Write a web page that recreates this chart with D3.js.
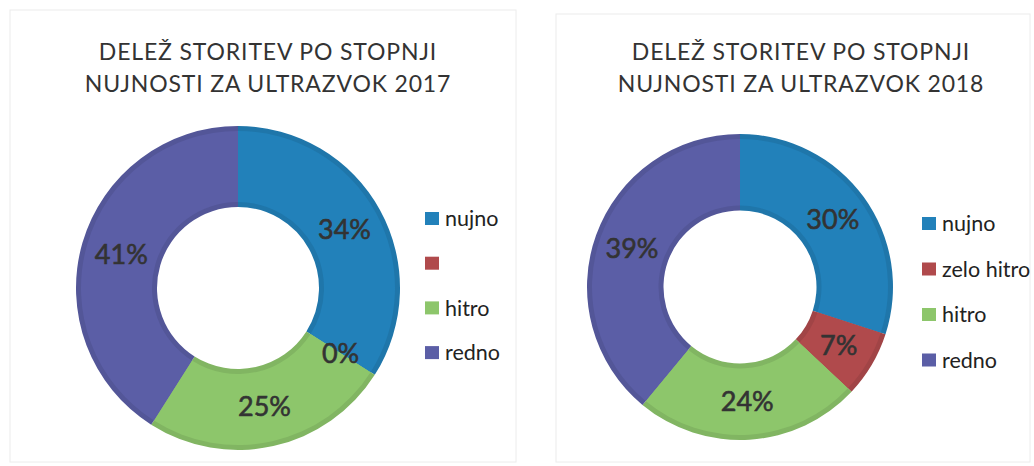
<!doctype html>
<html>
<head>
    <meta http-equiv="Content-type" content="text/html; charset=utf-8"/>
    <script src="https://d3js.org/d3.v7.min.js"></script>
    <style>
        body { margin: 0; background: #fff; }
        svg { display: block; font-family: Lato, "Open Sans", sans-serif; }
        .title { font-size: 23px; fill: #333; letter-spacing: 0.85px; }
        .pct { font-size: 27px; fill: #333; stroke: #333; stroke-width: 0.6px; }
        .leg { font-size: 21.5px; fill: #222; }
    </style>
</head>
<body>
<svg width="1034" height="466"></svg>
<script>
    // categories and values
    var categories = ["nujno", "zelo hitro", "hitro", "redno"];
    var legend2017 = ["nujno", "", "hitro", "redno"];
    var legend2018 = ["nujno", "zelo hitro", "hitro", "redno"];
    var values2017 = [34, 0, 25, 41];
    var values2018 = [30, 7, 24, 39];
    var titles2017 = ["DELEŽ STORITEV PO STOPNJI", "NUJNOSTI ZA ULTRAZVOK 2017"];
    var titles2018 = ["DELEŽ STORITEV PO STOPNJI", "NUJNOSTI ZA ULTRAZVOK 2018"];
    var colors = ["#2281ba", "#b04a4c", "#8dc66b", "#5b5ea6"];

    var color = d3.scaleOrdinal().domain(categories).range(colors);
    var svg = d3.select("svg");

    // faint panel frames from the scan
    svg.append("rect").attr("x", 10).attr("y", 10).attr("width", 506).attr("height", 452)
        .attr("fill", "none").attr("stroke", "#ececec");
    svg.append("rect").attr("x", 556).attr("y", 14).attr("width", 474).attr("height", 448)
        .attr("fill", "none").attr("stroke", "#ececec");

    function donut(cfg) {
        var g = svg.append("g");

        g.selectAll("text.title")
            .data(cfg.titles)
            .enter()
            .append("text")
            .attr("class", "title")
            .attr("x", cfg.tx)
            .attr("y", function(d, i) { return cfg.ty + i * 32; })
            .attr("text-anchor", "middle")
            .text(function(d) { return d; });

        var pie = d3.pie().sort(null).value(function(d) { return d.v; });
        var data = categories.map(function(c, i) { return {c: c, v: cfg.values[i]}; });
        var arcs = pie(data);

        var arc = d3.arc().innerRadius(cfg.r * 0.5).outerRadius(cfg.r);
        var inner = d3.arc().innerRadius(cfg.r * 0.5 + 5).outerRadius(cfg.r - 5);

        var c = g.append("g").attr("transform", "translate(" + cfg.cx + "," + cfg.cy + ")");

        c.selectAll("path.seg")
            .data(arcs)
            .enter()
            .append("path")
            .attr("class", "seg")
            .attr("d", arc)
            .attr("fill", function(d) { return d3.color(color(d.data.c)).darker(0.25); });

        c.selectAll("path.face")
            .data(arcs)
            .enter()
            .append("path")
            .attr("class", "face")
            .attr("d", inner)
            .attr("fill", function(d) { return color(d.data.c); });

        c.selectAll("text.pct")
            .data(arcs)
            .enter()
            .append("text")
            .attr("class", "pct")
            .attr("text-anchor", "middle")
            .attr("dy", "0.35em")
            .attr("transform", function(d) {
                var p = arc.centroid(d);
                return "translate(" + p[0] + "," + p[1] + ")";
            })
            .text(function(d) { return d.data.v + "%"; });

        var leg = g.selectAll("g.leg")
            .data(cfg.legend)
            .enter()
            .append("g")
            .attr("transform", function(d, i) {
                return "translate(" + cfg.lx + "," + (cfg.ly + i * cfg.ls) + ")";
            });
        leg.append("rect")
            .attr("x", 0).attr("y", -7)
            .attr("width", 14).attr("height", 13)
            .attr("fill", function(d, i) { return colors[i]; });
        leg.append("text")
            .attr("class", "leg")
            .attr("x", 20)
            .attr("dy", "0.33em")
            .text(function(d) { return d; });
    }

    donut({titles: titles2017, tx: 268, ty: 60, values: values2017, cx: 238, cy: 288, r: 162,
           legend: legend2017, lx: 425, ly: 219, ls: 44.7});
    donut({titles: titles2018, tx: 801, ty: 60, values: values2018, cx: 740, cy: 287, r: 153,
           legend: legend2018, lx: 922, ly: 224, ls: 45.5});
</script>
</body>
</html>
